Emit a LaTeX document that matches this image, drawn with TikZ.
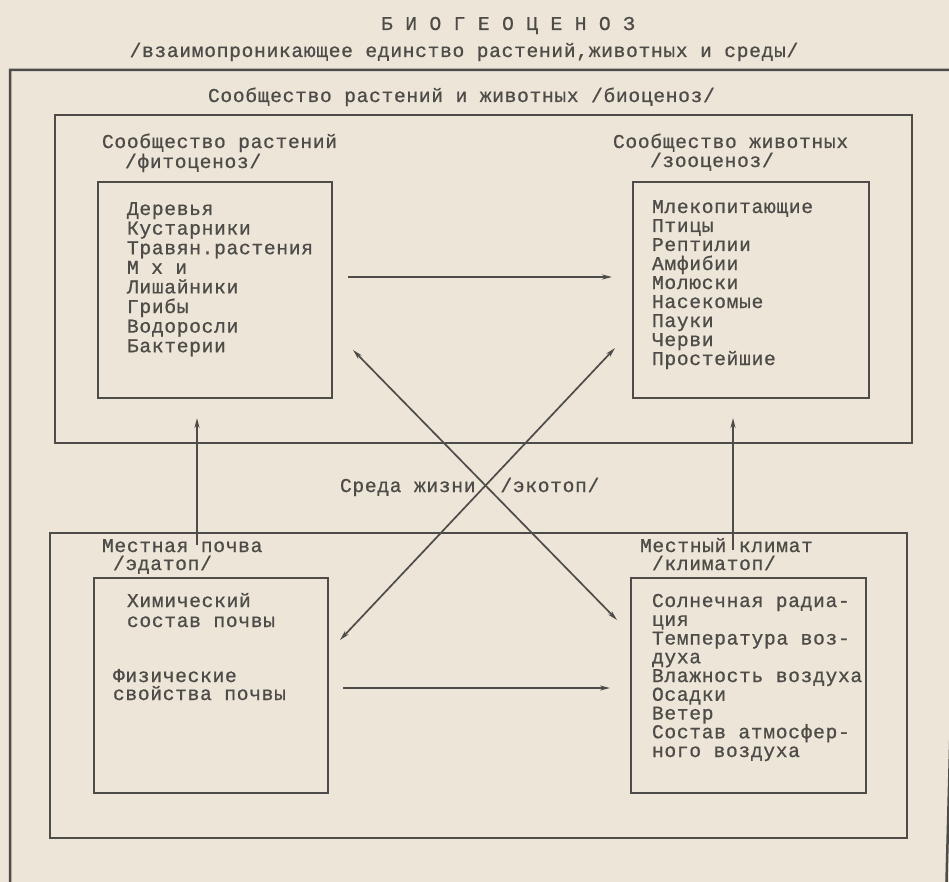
\documentclass[tikz,border=0pt]{standalone}
\usepackage{fontspec}
\newfontfamily\tw{Liberation Mono}[FakeBold=0.8,LetterSpace=3.5]
\usetikzlibrary{arrows.meta}
\definecolor{paper}{RGB}{236,229,216}
\definecolor{ink}{RGB}{78,76,72}
\begin{document}
\begin{tikzpicture}[x=1pt,y=-1pt,
  txt/.style={inner sep=0pt, outer sep=0pt, text=ink, anchor=base west, font=\tw\fontsize{19.6}{19}\selectfont},
  ctxt/.style={txt, anchor=base},
  box/.style={draw=ink, line width=2.3pt, inner sep=0pt, outer sep=0pt},
  frame/.style={draw=ink, line width=2.5pt},
  conn/.style={draw=ink, line width=1.7pt},
  >={Stealth[length=10pt,width=5pt]}]
\fill[paper] (0,0) rectangle (949,882);
\useasboundingbox (0,0) rectangle (949,882);
\clip (0,0) rectangle (949,882);

% outer frame
\draw[frame] (10,900) -- (10,70) -- (968,70) -- (946,900);

% boxes
\node[box, minimum width=857pt, minimum height=328pt] (bio) at (483.5,279) {};
\node[box, minimum width=857pt, minimum height=305pt] (env) at (478.5,685.5) {};
\node[box, minimum width=234pt, minimum height=216pt] (phyto) at (215,290) {};
\node[box, minimum width=236pt, minimum height=216pt] (zoo) at (751,290) {};
\node[box, minimum width=234pt, minimum height=215pt] (soil) at (211,685.5) {};
\node[box, minimum width=235pt, minimum height=215pt] (clim) at (748.5,685.5) {};

% titles
\node[ctxt] (title) at (508,30) {Б И О Г Е О Ц Е Н О З};
\node[ctxt] (subtitle) at (464,57) {/взаимопроникающее единство растений,животных и среды/};
\node[txt] (biolbl) at (208,102) {Сообщество растений и животных /биоценоз/};

\node[txt] (phlbl1) at (102,148) {Сообщество растений};
\node[txt] (phlbl2) at (125,168) {/фитоценоз/};
\node[txt] (zolbl1) at (613,148) {Сообщество животных};
\node[txt] (zolbl2) at (650,167) {/зооценоз/};
\node[txt] (solbl1) at (102,552) {Местная почва};
\node[txt] (solbl2) at (113,570) {/эдатоп/};
\node[txt] (cllbl1) at (640,552) {Местный климат};
\node[txt] (cllbl2) at (652,570) {/климатоп/};
\node[txt] (envlbl) at (340,492) {Среда жизни~~/экотоп/};

% lists
\foreach \t [count=\i] in {Деревья,Кустарники,Травян.растения,М х и,Лишайники,Грибы,Водоросли,Бактерии}
  \node[txt] (ph\i) at (127,{215+19.6*(\i-1)}) {\t};
\foreach \t [count=\i] in {Млекопитающие,Птицы,Рептилии,Амфибии,Молюски,Насекомые,Пауки,Черви,Простейшие}
  \node[txt] (zo\i) at (652,{213+19*(\i-1)}) {\t};
\node[txt] (so1) at (127,607) {Химический};
\node[txt] (so2) at (127,627) {состав почвы};
\node[txt] (so3) at (113,682) {Физические};
\node[txt] (so4) at (113,700) {свойства почвы};
\foreach \t [count=\i] in {Солнечная радиа-,ция,Температура воз-,духа,Влажность воздуха,Осадки,Ветер,Состав атмосфер-,ного воздуха}
  \node[txt] (cl\i) at (652,{607+18.75*(\i-1)}) {\t};

% connectors
\coordinate (hT1) at (348,277); \coordinate (hT2) at (612,277);
\coordinate (hB1) at (343,688); \coordinate (hB2) at (610,688);
\coordinate (vL1) at (197,545); \coordinate (vL2) at (197,418);
\coordinate (vR1) at (733,550); \coordinate (vR2) at (733,418);
\coordinate (dA1) at (353,350); \coordinate (dA2) at (617,620);
\coordinate (dB1) at (340,640); \coordinate (dB2) at (615,348);
\draw[conn,->] (hT1) -- (hT2);
\draw[conn,->] (hB1) -- (hB2);
\draw[conn,->] (vL1) -- (vL2);
\draw[conn,->] (vR1) -- (vR2);
\draw[conn,<->] (dA1) -- (dA2);
\draw[conn,<->] (dB1) -- (dB2);
\end{tikzpicture}
\end{document}
